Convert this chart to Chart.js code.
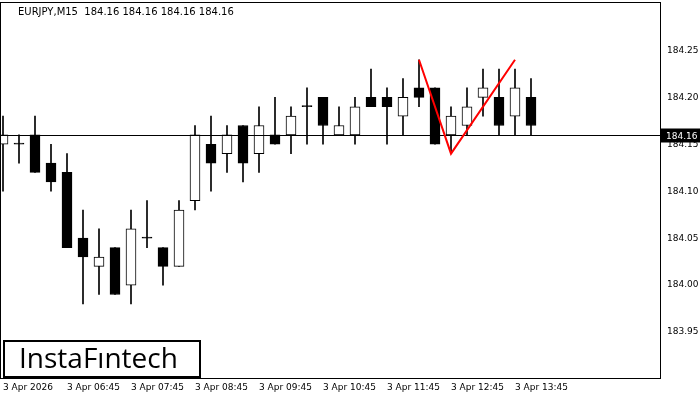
<!DOCTYPE html>
<html><head><meta charset="utf-8">
<script src="https://cdn.jsdelivr.net/npm/chart.js@4"></script>
<style>html,body{margin:0;padding:0;background:#fff}#w{width:700px;height:400px}</style>
</head><body><div id="w"><canvas id="c"></canvas></div>
<script>
const opens  = [184.15,184.15,184.16,184.13,184.12,184.05,184.02,184.04,184.00,184.05,184.04,184.02,184.09,184.15,184.14,184.17,184.14,184.16,184.16,184.19,184.20,184.16,184.16,184.20,184.20,184.18,184.21,184.21,184.16,184.17,184.20,184.20,184.18,184.20];
const highs  = [184.18,184.16,184.18,184.15,184.14,184.08,184.06,184.04,184.08,184.09,184.04,184.09,184.17,184.18,184.17,184.17,184.19,184.20,184.19,184.21,184.20,184.19,184.20,184.23,184.21,184.22,184.24,184.21,184.19,184.21,184.23,184.23,184.23,184.22];
const lows   = [184.10,184.13,184.12,184.10,184.04,183.98,183.99,183.99,183.98,184.04,184.00,184.02,184.08,184.10,184.12,184.11,184.12,184.15,184.14,184.15,184.15,184.16,184.15,184.19,184.15,184.16,184.19,184.15,184.14,184.16,184.18,184.16,184.16,184.16];
const closes = [184.16,184.15,184.12,184.11,184.04,184.03,184.03,183.99,184.06,184.05,184.02,184.08,184.16,184.13,184.16,184.13,184.17,184.15,184.18,184.19,184.17,184.17,184.19,184.19,184.19,184.20,184.20,184.15,184.18,184.19,184.21,184.17,184.21,184.17];
const tickLabels = ["3 Apr 2026","3 Apr 06:45","3 Apr 07:45","3 Apr 08:45","3 Apr 09:45","3 Apr 10:45","3 Apr 11:45","3 Apr 12:45","3 Apr 13:45"];
const yTicks = [183.95,184.00,184.05,184.10,184.15,184.20,184.25];
const patternIdx = [26,28,32];
const patternVals = [184.24,184.14,184.24];
const lastPrice = 184.16;

const wicks = opens.map((o,i)=>({x:i,y:[lows[i],highs[i]]}));
const bodies = opens.map((o,i)=>{const lo=Math.min(o,closes[i]),hi=Math.max(o,closes[i]);return {x:i,y:[lo,hi===lo?lo+0.0012:hi]};});
const bodyFill = opens.map((o,i)=>closes[i]<=o?'#000':'#fff');

const overlay = {
  id:'overlay',
  afterDatasetsDraw(ch){
    const {ctx,chartArea:a,scales:{x,y}}=ch;
    ctx.save();
    const py=Math.round(y.getPixelForValue(lastPrice))+0.5;
    ctx.strokeStyle='#000';ctx.lineWidth=1;
    ctx.beginPath();ctx.moveTo(a.left,py);ctx.lineTo(a.right,py);ctx.stroke();
    ctx.strokeStyle='#ff0000';ctx.lineWidth=2;ctx.beginPath();
    patternIdx.forEach((k,j)=>{const px=x.getPixelForValue(k),yy=y.getPixelForValue(patternVals[j]);j?ctx.lineTo(px,yy):ctx.moveTo(px,yy);});
    ctx.stroke();
    ctx.strokeStyle='#000';ctx.lineWidth=1;
    ctx.strokeRect(a.left+0.5,2.5,a.right-a.left,a.bottom-2);
    ctx.fillStyle='#000';ctx.fillRect(a.right+1,py-7,40,14);
    ctx.fillStyle='#fff';ctx.font='9px "DejaVu Sans"';ctx.textBaseline='middle';ctx.textAlign='left';
    ctx.fillText(lastPrice.toFixed(2),a.right+6,py+1);
    ctx.fillStyle='#000';ctx.font='10px "DejaVu Sans"';ctx.textBaseline='middle';
    ctx.fillText('EURJPY,M15  184.16 184.16 184.16 184.16',18,12);
    ctx.fillStyle='#fff';ctx.fillRect(3,340,198,38);
    ctx.strokeStyle='#000';ctx.lineWidth=2;ctx.strokeRect(4,341,196,36);
    ctx.fillStyle='#000';ctx.font='28px "Open Sans"';ctx.textBaseline='middle';
    ctx.fillText('InstaFıntech',19,360);
    ctx.restore();
  }
};

new Chart(document.getElementById('c'),{
  type:'bar',
  data:{datasets:[
    {data:wicks,backgroundColor:'#000',barThickness:1,grouped:false,order:2},
    {data:bodies,backgroundColor:bodyFill,borderColor:'#000',borderWidth:1,borderSkipped:false,barThickness:10,grouped:false,order:1}
  ]},
  options:{
    responsive:true,maintainAspectRatio:false,animation:false,
    layout:{padding:{left:0,top:-4,right:0,bottom:0}},
    plugins:{legend:{display:false},tooltip:{enabled:false}},
    scales:{
      x:{type:'linear',min:-0.1875,max:41.0625,offset:false,
        afterFit(s){s.height=22;},
        grid:{display:false,tickLength:4,color:'#000'},border:{display:false},
        afterBuildTicks(s){s.ticks=tickLabels.map((t,i)=>({value:i*4}));},
        ticks:{autoSkip:false,maxRotation:0,align:'start',color:'#000',font:{size:9,family:'DejaVu Sans'},padding:0,
          callback:(v)=>tickLabels[v/4]||''}},
      y:{position:'right',min:183.9011,max:184.2947,
        afterFit(s){s.width=40;},
        grid:{display:false,tickLength:4,color:'#000'},border:{display:false},
        afterBuildTicks(s){s.ticks=yTicks.map(v=>({value:v}));},
        ticks:{color:'#000',font:{size:9,family:'DejaVu Sans'},padding:3,callback:v=>v.toFixed(2)}}
    }
  },
  plugins:[overlay]
});
</script></body></html>
